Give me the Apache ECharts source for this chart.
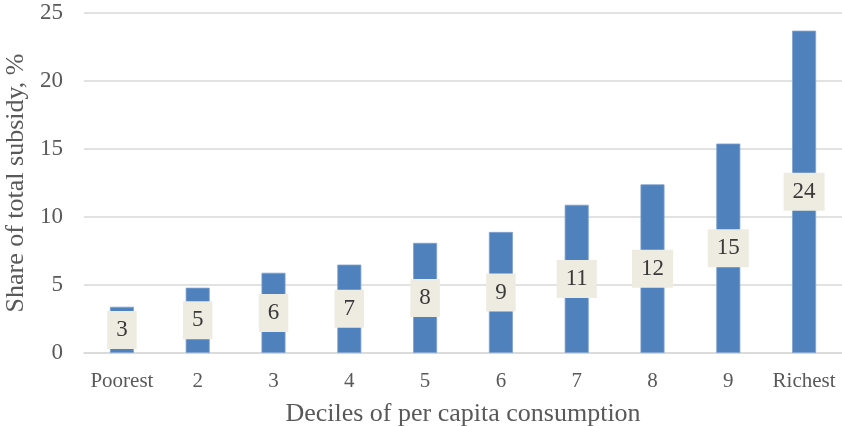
<!DOCTYPE html>
<html>
<head>
<meta charset="utf-8">
<script src="https://cdn.jsdelivr.net/npm/echarts@6/dist/echarts.min.js"></script>
<style>
  html, body { margin: 0; padding: 0; background: #ffffff; }
  #chart { width: 842px; height: 426px; }
</style>
</head>
<body>
<div id="chart"></div>
<script>
// Deciles of per capita consumption and each decile's share of total subsidy (%)
const deciles = ['Poorest', '2', '3', '4', '5', '6', '7', '8', '9', 'Richest'];
const subsidyShare = [3.4, 4.8, 5.9, 6.5, 8.1, 8.9, 10.9, 12.4, 15.4, 23.7];
const yTicks = [0, 5, 10, 15, 20, 25];

const serif = '"Liberation Serif", "Times New Roman", serif';
const chart = echarts.init(document.getElementById('chart'), null, { renderer: 'canvas' });

chart.setOption({
  animation: false,
  backgroundColor: '#ffffff',
  grid: { left: 84, right: 0, top: 13, bottom: 73, containLabel: false, outerBoundsMode: 'none' },
  xAxis: {
    type: 'category',
    data: deciles,
    name: 'Deciles of per capita consumption',
    nameLocation: 'middle',
    nameGap: 48,
    nameTextStyle: { fontFamily: serif, fontSize: 26, color: '#595959' },
    axisLine: { show: true, lineStyle: { color: '#d9d9d9', width: 1.5 } },
    axisTick: { show: false },
    axisLabel: { interval: 0, fontFamily: serif, fontSize: 21, color: '#595959', margin: 18 }
  },
  yAxis: {
    type: 'value',
    min: yTicks[0],
    max: yTicks[yTicks.length - 1],
    interval: 5,
    name: 'Share of total subsidy, %',
    nameLocation: 'middle',
    nameGap: 49,
    nameTextStyle: { fontFamily: serif, fontSize: 26, color: '#595959' },
    axisLine: { show: false },
    axisTick: { show: false },
    axisLabel: { fontFamily: serif, fontSize: 23, color: '#595959', margin: 21 },
    splitLine: { lineStyle: { color: '#d9d9d9', width: 1.5 } }
  },
  series: [{
    type: 'bar',
    data: subsidyShare,
    barWidth: 24,
    itemStyle: { color: '#4f81bd', borderColor: '#7fa2cf', borderWidth: 0.8 },
    label: {
      show: true,
      position: 'inside',
      formatter: p => String(Math.round(p.value)),
      fontFamily: serif,
      fontSize: 23,
      color: '#3a3a3a',
      backgroundColor: '#eeebe1',
      padding: [8, 9, 7, 9]
    }
  }]
});
</script>
</body>
</html>
